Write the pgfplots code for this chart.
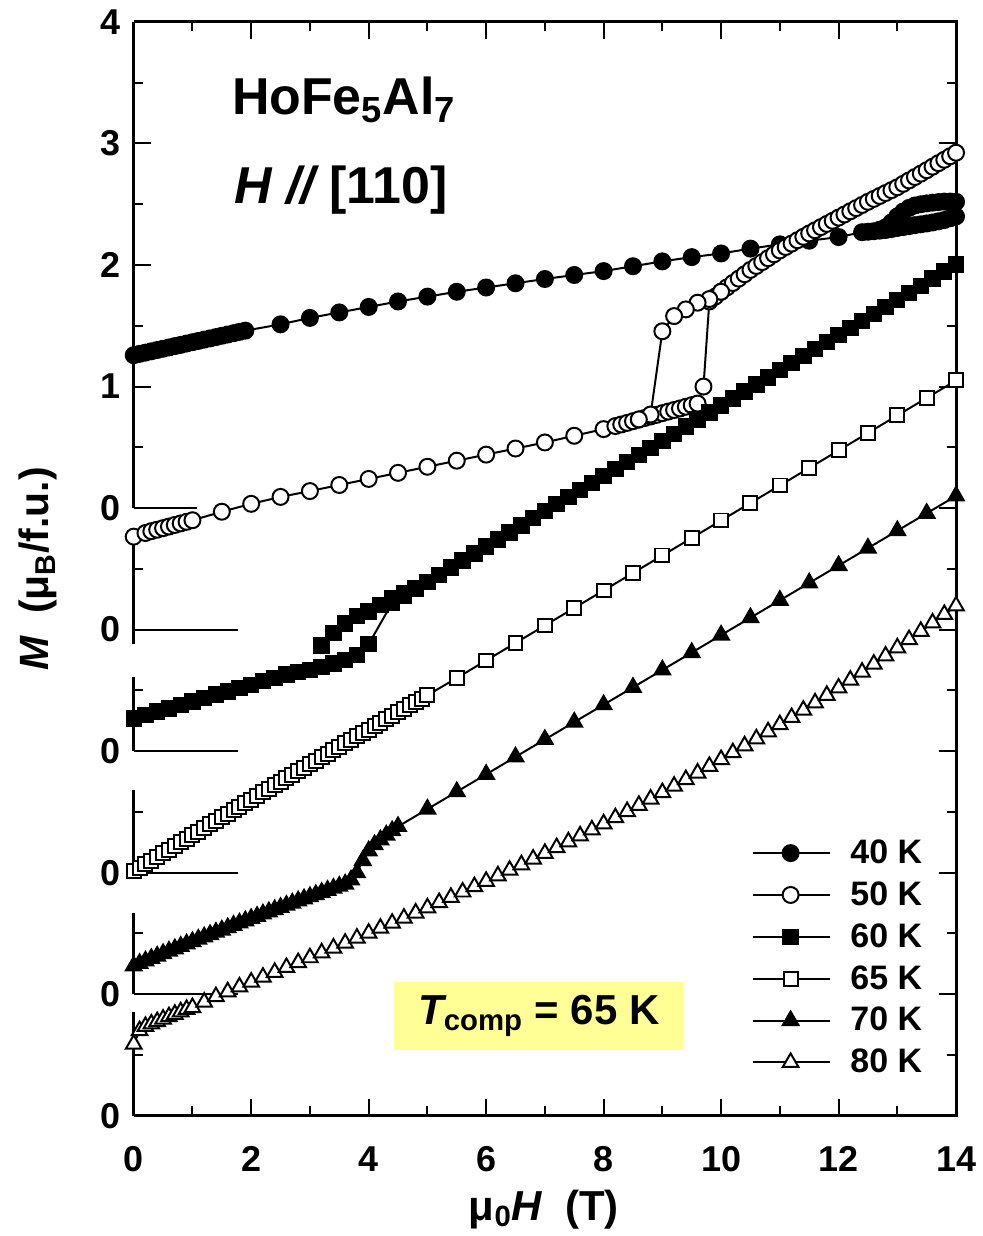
\documentclass[border=0pt]{standalone}
\usepackage{fontspec}
\setmainfont{Liberation Sans}
\usepackage{pgfplots}
\pgfplotsset{compat=1.18}
\definecolor{tyellow}{RGB}{255,255,150}
\newcommand\tfont{\fontsize{18}{18}\selectfont\bfseries}
\begin{document}
\begin{tikzpicture}
\begin{axis}[
  scale only axis, width=412pt, height=548pt,
  xmin=0, xmax=14, ymin=-5, ymax=4,
  xtick={0,2,...,14}, minor xtick={1,3,...,13},
  ytick={-5,-4,-3,-2,-1,0,1,2,3,4}, yticklabels={0,0,0,0,0,0,1,2,3,4},
  minor ytick={-4.5,-3.5,-2.5,-1.5,-0.5,0.5,1.5,2.5,3.5},
  tick align=inside,
  major tick length=8.5pt, minor tick length=4.75pt,
  every tick/.style={line width=1pt, black},
  axis line style={draw=none},
  ticklabel style={font=\tfont},
  /pgf/number format/assume math mode=true,
  xticklabel style={yshift=-12pt},
  yticklabel style={xshift=-3pt},
  clip=false,
  every axis plot/.append style={line width=1pt},
  legend style={at={(rel axis cs:0.751,0.2527)}, anchor=north west, draw=none, fill=none,
    font=\fontsize{17}{17}\selectfont\bfseries, row sep=7.6pt, inner sep=0pt,
    nodes={inner sep=0pt}, column sep=10pt, cells={anchor=west}},
  legend image code/.code={\draw[mark repeat=2,mark phase=2] plot coordinates {(0pt,0pt) (19pt,0pt) (38.5pt,0pt)};},
]
% frame
\draw[line width=1.5pt] (axis cs:0,4) -- (axis cs:14,4) -- (axis cs:14,-5) -- (axis cs:0,-5);
\draw[line width=1.5pt] (axis cs:0,4) -- (axis cs:0,0);
\draw[line width=1.5pt] (axis cs:0,-0.22) -- (axis cs:0,-1.115);
\draw[line width=1.5pt] (axis cs:0,-1.386) -- (axis cs:0,-2.0);
\draw[line width=1.5pt] (axis cs:0,-2.32) -- (axis cs:0,-3.01);
\draw[line width=1.5pt] (axis cs:0,-3.33) -- (axis cs:0,-4.0);
\draw[line width=1.5pt] (axis cs:0,-4.15) -- (axis cs:0,-5);
% zero lines
\draw[line width=1pt] (axis cs:0,0) -- (axis cs:1.07,0);
\draw[line width=1pt] (axis cs:0,-1) -- (axis cs:1.78,-1);
\draw[line width=1pt] (axis cs:0,-2) -- (axis cs:1.78,-2);
\draw[line width=1pt] (axis cs:0,-3) -- (axis cs:1.78,-3);
\draw[line width=1pt] (axis cs:0,-4) -- (axis cs:1.78,-4);
% bounding box
\path (rel axis cs:-0.1626,-0.1077) rectangle (rel axis cs:1.0303,1.0201);

% 40 K
\addplot[black, mark=*, mark size=4pt, mark options={fill=black}] coordinates {
(0,1.258)(0.1,1.269)(0.2,1.279)(0.3,1.290)(0.4,1.301)(0.5,1.311)(0.6,1.322)(0.7,1.333)(0.8,1.343)(0.9,1.354)(1.0,1.365)(1.1,1.375)(1.2,1.386)(1.3,1.396)(1.4,1.407)(1.5,1.418)(1.6,1.428)(1.7,1.439)(1.8,1.450)(1.9,1.460)
(2.5,1.512)(3,1.565)(3.5,1.61)(4,1.655)(4.5,1.70)(5,1.74)(5.5,1.78)(6,1.815)(6.5,1.85)(7,1.885)(7.5,1.918)(8,1.95)(8.5,1.99)(9,2.03)(9.5,2.065)(10,2.095)(10.5,2.135)(11,2.17)(11.5,2.20)(12,2.23)
(12.4,2.27)(12.5,2.274)(12.6,2.278)(12.7,2.283)(12.8,2.288)(12.9,2.296)(13.0,2.305)(13.1,2.312)(13.2,2.32)(13.3,2.328)(13.4,2.335)(13.5,2.342)(13.6,2.35)(13.7,2.36)(13.8,2.37)(13.9,2.385)(14.0,2.40)
(14.0,2.52)(13.9,2.522)(13.8,2.522)(13.7,2.518)(13.6,2.513)(13.5,2.507)(13.4,2.50)(13.3,2.49)(13.2,2.47)(13.1,2.44)(13.0,2.40)(12.9,2.35)(12.8,2.31)(12.7,2.29)
};
\addlegendentry{40 K}
% 50 K
\addplot[black, mark=*, mark size=4pt, mark options={fill=white}] coordinates {
(0,-0.235)(0.2,-0.205)(0.3,-0.19)(0.4,-0.178)(0.5,-0.165)(0.6,-0.152)(0.7,-0.139)(0.8,-0.126)(0.9,-0.113)(1.0,-0.10)
(1.5,-0.03)(2.0,0.035)(2.5,0.092)(3.0,0.14)(3.5,0.19)(4.0,0.24)(4.5,0.29)(5.0,0.34)(5.5,0.39)(6.0,0.44)(6.5,0.49)(7.0,0.54)(7.5,0.595)(8.0,0.65)
(8.2,0.675)(8.3,0.688)(8.4,0.701)(8.5,0.715)(8.6,0.728)(8.7,0.741)(8.8,0.754)(8.9,0.767)(9.0,0.781)(9.1,0.794)(9.2,0.807)(9.3,0.820)(9.4,0.834)(9.5,0.847)(9.6,0.860)(9.7,1.0)
(9.8,1.700)(9.9,1.740)(10.0,1.780)(10.1,1.816)(10.2,1.852)(10.3,1.888)(10.4,1.924)(10.5,1.960)(10.6,1.992)(10.7,2.024)(10.8,2.056)(10.9,2.088)(11.0,2.120)(11.1,2.148)(11.2,2.176)(11.3,2.204)(11.4,2.232)(11.5,2.260)(11.6,2.286)(11.7,2.312)(11.8,2.338)(11.9,2.364)(12.0,2.390)(12.1,2.416)(12.2,2.442)(12.3,2.468)(12.4,2.494)(12.5,2.520)(12.6,2.544)(12.7,2.568)(12.8,2.592)(12.9,2.616)(13.0,2.640)(13.1,2.668)(13.2,2.696)(13.3,2.724)(13.4,2.752)(13.5,2.780)(13.6,2.809)(13.7,2.838)(13.8,2.866)(13.9,2.895)(14.0,2.924)
};
\addlegendentry{50 K}
\addplot[black, mark=*, mark size=4pt, mark options={fill=white}, forget plot] coordinates {
(10.0,1.780)(9.8,1.72)(9.6,1.69)(9.4,1.635)(9.2,1.58)(9.0,1.455)(8.8,0.77)(8.6,0.73)
};
% 60 K
\addplot[black, mark=square*, mark size=3.6pt, mark options={fill=black}] coordinates {
(0,-1.73)(0.2,-1.70)(0.4,-1.675)(0.6,-1.65)(0.8,-1.62)(1.0,-1.59)(1.2,-1.565)(1.4,-1.535)(1.6,-1.51)(1.8,-1.48)(2.0,-1.455)(2.2,-1.425)(2.4,-1.40)(2.6,-1.37)(2.8,-1.35)(3.0,-1.33)(3.2,-1.305)(3.4,-1.28)(3.6,-1.25)(3.8,-1.21)(4.0,-1.12)
(4.4,-0.780)(4.6,-0.722)(4.8,-0.664)(5.0,-0.606)(5.2,-0.548)(5.4,-0.490)(5.6,-0.432)(5.8,-0.374)(6.0,-0.316)(6.2,-0.258)(6.4,-0.200)(6.6,-0.142)(6.8,-0.084)(7.0,-0.026)(7.2,0.032)(7.4,0.090)(7.6,0.148)(7.8,0.206)(8.0,0.264)(8.2,0.322)(8.4,0.380)(8.6,0.438)(8.8,0.496)(9.0,0.554)(9.2,0.612)(9.4,0.670)(9.6,0.728)(9.8,0.786)(10.0,0.844)(10.2,0.902)(10.4,0.960)(10.6,1.018)(10.8,1.076)(11.0,1.134)(11.2,1.192)(11.4,1.250)(11.6,1.308)(11.8,1.366)(12.0,1.424)(12.2,1.482)(12.4,1.540)(12.6,1.598)(12.8,1.656)(13.0,1.714)(13.2,1.772)(13.4,1.830)(13.6,1.888)(13.8,1.946)(14.0,2.004)
};
\addlegendentry{60 K}
\addplot[black, mark=square*, mark size=3.6pt, mark options={fill=black}, forget plot] coordinates {
(5.0,-0.61)(4.8,-0.66)(4.6,-0.70)(4.4,-0.745)(4.2,-0.80)(4.0,-0.85)(3.8,-0.89)(3.6,-0.95)(3.4,-1.03)(3.2,-1.13)
};
% 65 K
\addplot[black, mark=square*, mark size=3.5pt, mark options={fill=white}] coordinates {
(0,-2.990)(0.1,-2.960)(0.2,-2.930)(0.3,-2.900)(0.4,-2.870)(0.5,-2.841)(0.6,-2.811)(0.7,-2.781)(0.8,-2.751)(0.9,-2.722)(1.0,-2.692)(1.1,-2.662)(1.2,-2.633)(1.3,-2.603)(1.4,-2.574)(1.5,-2.545)(1.6,-2.515)(1.7,-2.486)(1.8,-2.456)(1.9,-2.427)(2.0,-2.398)(2.1,-2.369)(2.2,-2.340)(2.3,-2.311)(2.4,-2.282)(2.5,-2.253)(2.6,-2.224)(2.7,-2.195)(2.8,-2.166)(2.9,-2.137)(3.0,-2.108)(3.1,-2.079)(3.2,-2.050)(3.3,-2.022)(3.4,-1.993)(3.5,-1.965)(3.6,-1.936)(3.7,-1.907)(3.8,-1.879)(3.9,-1.850)(4.0,-1.822)(4.1,-1.794)(4.2,-1.765)(4.3,-1.737)(4.4,-1.709)(4.5,-1.681)(4.6,-1.652)(4.7,-1.624)(4.8,-1.596)(4.9,-1.568)(5.0,-1.540)
(5.5,-1.398)(6,-1.254)(6.5,-1.110)(7,-0.966)(7.5,-0.822)(8,-0.678)(8.5,-0.534)(9,-0.390)(9.5,-0.246)(10,-0.102)(10.5,0.042)(11,0.186)(11.5,0.330)(12,0.474)(12.5,0.618)(13,0.762)(13.5,0.906)(14,1.050)
};
\addlegendentry{65 K}
% 70 K
\addplot[black, mark=triangle*, mark size=4.5pt, mark options={fill=black}] coordinates {
(0,-3.767)(0.1,-3.747)(0.2,-3.726)(0.3,-3.706)(0.4,-3.686)(0.5,-3.666)(0.6,-3.646)(0.7,-3.626)(0.8,-3.606)(0.9,-3.586)(1.0,-3.567)(1.1,-3.547)(1.2,-3.528)(1.3,-3.509)(1.4,-3.490)(1.5,-3.472)(1.6,-3.453)(1.7,-3.433)(1.8,-3.414)(1.9,-3.396)(2.0,-3.377)(2.1,-3.359)(2.2,-3.340)(2.3,-3.322)(2.4,-3.304)(2.5,-3.286)(2.6,-3.268)(2.7,-3.250)(2.8,-3.232)(2.9,-3.215)(3.0,-3.197)(3.1,-3.180)(3.2,-3.162)(3.3,-3.145)(3.4,-3.128)(3.5,-3.111)(3.6,-3.094)
(3.7,-3.06)(3.8,-3.00)(3.9,-2.90)(4.0,-2.82)(4.1,-2.77)(4.2,-2.73)(4.3,-2.69)(4.4,-2.655)(4.5,-2.62)
(5.0,-2.477)(5.5,-2.334)(6.0,-2.191)(6.5,-2.047)(7.0,-1.904)(7.5,-1.761)(8.0,-1.618)(8.5,-1.475)(9.0,-1.332)(9.5,-1.189)(10.0,-1.045)(10.5,-0.902)(11.0,-0.759)(11.5,-0.616)(12.0,-0.473)(12.5,-0.330)(13.0,-0.186)(13.5,-0.043)(14.0,0.100)
};
\addlegendentry{70 K}
% 80 K
\addplot[black, mark=triangle*, mark size=4.5pt, mark options={fill=white}] coordinates {
(0,-4.41)(0.1,-4.30)(0.2,-4.265)(0.3,-4.245)(0.4,-4.225)(0.5,-4.205)(0.6,-4.185)(0.7,-4.165)(0.8,-4.145)(0.9,-4.125)(1.0,-4.11)(1.2,-4.065)(1.4,-4.02)(1.6,-3.98)(1.8,-3.94)(2.0,-3.90)(2.2,-3.86)(2.4,-3.82)(2.6,-3.78)
(2.8,-3.740)(3.0,-3.700)(3.2,-3.660)(3.4,-3.620)(3.6,-3.580)(3.8,-3.539)(4.0,-3.498)(4.2,-3.457)(4.4,-3.416)(4.6,-3.374)(4.8,-3.332)(5.0,-3.289)(5.2,-3.246)(5.4,-3.203)(5.6,-3.159)(5.8,-3.115)(6.0,-3.071)(6.2,-3.026)(6.4,-2.980)(6.6,-2.935)(6.8,-2.888)(7.0,-2.841)(7.2,-2.794)(7.4,-2.746)(7.6,-2.697)(7.8,-2.648)(8.0,-2.598)(8.2,-2.548)(8.4,-2.497)(8.6,-2.446)(8.8,-2.394)(9.0,-2.341)(9.2,-2.288)(9.4,-2.234)(9.6,-2.180)(9.8,-2.125)(10.0,-2.069)(10.2,-2.013)(10.4,-1.956)(10.6,-1.899)(10.8,-1.841)(11.0,-1.782)(11.2,-1.723)(11.4,-1.663)(11.6,-1.603)(11.8,-1.541)(12.0,-1.480)(12.2,-1.415)(12.4,-1.350)(12.6,-1.284)(12.8,-1.217)(13.0,-1.150)(13.2,-1.082)(13.4,-1.014)(13.6,-0.945)(13.8,-0.875)(14.0,-0.805)
};
\addlegendentry{80 K}

% texts
\node[anchor=west, font=\fontsize{26}{26}\selectfont\bfseries] at (rel axis cs:0.111,0.929) {HoFe\textsubscript{5}Al\textsubscript{7}};
\node[anchor=west, font=\fontsize{26}{26}\selectfont\bfseries] at (rel axis cs:0.114,0.846) {\itshape H\upshape\ \itshape //\upshape\ [110]};
\node[fill=tyellow, minimum width=145pt, minimum height=34.5pt, inner sep=0pt, font=\fontsize{21}{21}\selectfont\bfseries] at (rel axis cs:0.4927,0.0912) {\itshape T\upshape\textsubscript{comp} = 65 K};
\node[rotate=90, font=\fontsize{20.5}{20.5}\selectfont\bfseries] at (rel axis cs:-0.116,0.50) {\itshape M\upshape\ \ (μ\textsubscript{B}/f.u.)};
\node[font=\fontsize{21}{21}\selectfont\bfseries] at (rel axis cs:0.4988,-0.086) {μ\textsubscript{0}\itshape H\upshape\ \ (T)};
\end{axis}
\end{tikzpicture}
\end{document}
